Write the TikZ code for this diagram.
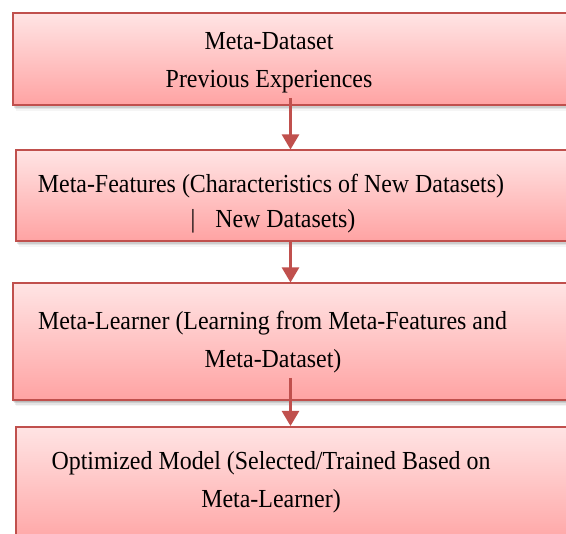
\documentclass[tikz,border=0pt]{standalone}
\usepackage{fontspec}
\setmainfont[FakeStretch=0.92]{Liberation Serif}
\usetikzlibrary{arrows.meta,calc,shadows}
\definecolor{edge}{HTML}{C0504D}
\definecolor{filltop}{HTML}{FFE4E4}
\definecolor{fillbot}{HTML}{FFA3A3}
\tikzset{
  softshadow/.style={
    drop shadow={shadow xshift=0.8pt, shadow yshift=-1.5pt, fill=black, opacity=0.10},
    drop shadow={shadow xshift=1.5pt, shadow yshift=-3pt, fill=black, opacity=0.10},
    drop shadow={shadow xshift=2.2pt, shadow yshift=-4.5pt, fill=black, opacity=0.07},
    drop shadow={shadow xshift=3pt, shadow yshift=-6pt, fill=black, opacity=0.04}},
  stagebox/.style={rectangle, draw=edge, line width=2pt, inner sep=0pt,
    top color=filltop, bottom color=fillbot, anchor=north west,
    minimum width=700pt, softshadow},
  linetext/.style={anchor=base, inner sep=0pt, font=\fontsize{26}{30}\selectfont},
  flow/.style={draw=edge, line width=2.5pt, -{Triangle[width=17pt,length=15pt]}}
}
\begin{document}
\begin{tikzpicture}[x=1pt,y=1pt]
  \useasboundingbox (0,0) rectangle (566,-534);

  % stage boxes (running off the right edge)
  \node[stagebox, minimum height=91.5pt]  (b1) at (11.5,-12.5) {};
  \node[stagebox, minimum height=90.5pt]  (b2) at (14.5,-149.5) {};
  \node[stagebox, minimum height=117pt]   (b3) at (11.5,-282.5) {};
  \node[stagebox, minimum height=120pt]   (b4) at (14.5,-426) {};

  % box texts, one node per printed line
  \node[linetext] (t1a) at (269,-50)  {Meta-Dataset};
  \node[linetext] (t1b) at (269,-88)  {Previous Experiences};
  \node[linetext] (t2a) at (271,-193) {Meta-Features (Characteristics of New Datasets)};
  \node[linetext] (t2b) at (273,-228) {|\hspace{20pt}New Datasets)};
  \node[linetext] (t3a) at (272.5,-330) {Meta-Learner (Learning from Meta-Features and};
  \node[linetext] (t3b) at (273,-368) {Meta-Dataset)};
  \node[linetext] (t4a) at (271,-470) {Optimized Model (Selected/Trained Based on};
  \node[linetext] (t4b) at (271,-508) {Meta-Learner)};

  % connectors
  \coordinate (s1) at (290.5,-98);
  \coordinate (s2) at (290.5,-240);
  \coordinate (s3) at (290.5,-378);
  \draw[flow] (s1) -- (s1 |- b2.north);
  \draw[flow] (s2 |- b2.south) -- (s2 |- b3.north);
  \draw[flow] (s3) -- (s3 |- b4.north);
\end{tikzpicture}
\end{document}
